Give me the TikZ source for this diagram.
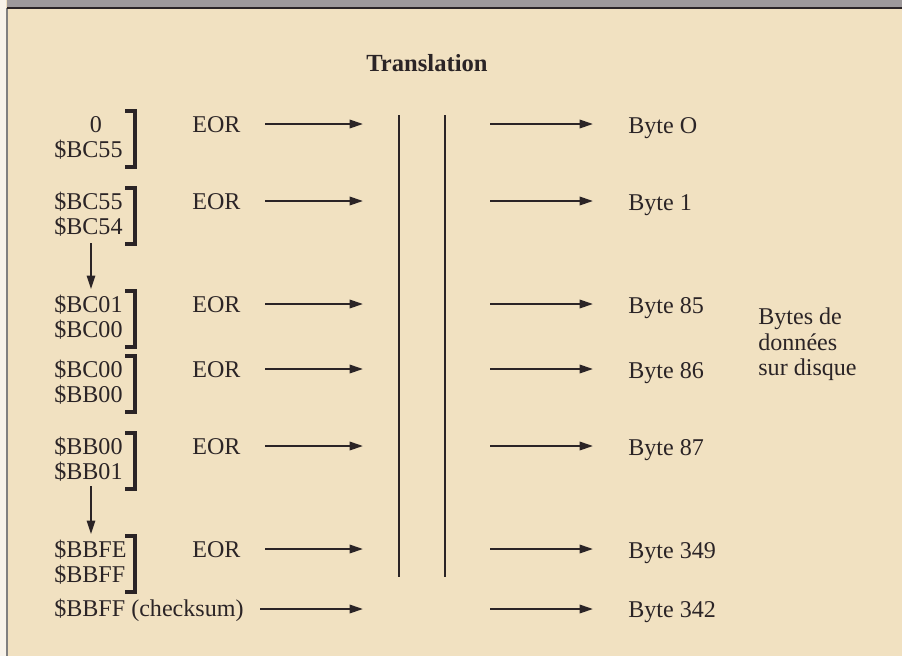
\documentclass[tikz,border=0pt]{standalone}
\usepackage{fontspec}
\setmainfont{Liberation Serif}
\usetikzlibrary{arrows.meta}
\definecolor{paper}{HTML}{F1E1C1}
\definecolor{band}{HTML}{9E999B}
\definecolor{ink}{HTML}{2B2426}
\definecolor{strip}{HTML}{F8F3EA}
\begin{document}
\begin{tikzpicture}[x=0.02cm,y=-0.02cm,
  lbl/.style={font=\fontsize{13.7}{16}\selectfont, text=ink, inner sep=0pt, anchor=base west},
  arr/.style={draw=ink, line width=1.2pt, -{Triangle[length=0.27cm,width=0.17cm]}},
  brk/.style={draw=ink, line width=2.2pt},
  vline/.style={draw=ink, line width=0.65pt}]
\useasboundingbox (0,0) rectangle (902,656);
\fill[paper] (0,0) rectangle (902,656);
\fill[strip] (0,0) rectangle (6,656);
\draw[gray, line width=0.6pt] (7,8) -- (7,656);
\fill[band] (7,0) rectangle (902,7);
\draw[ink, line width=1.2pt] (7,8) -- (902,8);

\node[lbl, font=\bfseries\fontsize{14}{16}\selectfont, anchor=base] (title) at (427,71) {Translation};

% vertical translation lines
\coordinate (v1t) at (399,115); \coordinate (v1b) at (399,577);
\coordinate (v2t) at (445,115); \coordinate (v2b) at (445,577);
\draw[vline] (v1t) -- (v1b);
\draw[vline] (v2t) -- (v2b);

% first row, first value
\node[lbl, anchor=base] (l0a) at (96,132) {0};

\foreach \i/\y/\ta/\tb/\bt in {0/132//\$BC55/Byte O,
                               1/209/\$BC55/\$BC54/Byte 1,
                               2/312/\$BC01/\$BC00/Byte 85,
                               3/377/\$BC00/\$BB00/Byte 86,
                               4/454/\$BB00/\$BB01/Byte 87,
                               5/557/\$BBFE/\$BBFF/Byte 349}{
  \ifnum\i>0
    \node[lbl] (l\i a) at (54,\y) {\ta};
  \fi
  \node[lbl] (l\i b) at (54,\y+25.5) {\tb};
  \draw[brk] (125,\y-21) -- (135,\y-21) -- (135,\y+35) -- (125,\y+35);
  \node[lbl] (eor\i) at (192,\y) {EOR};
  \coordinate (ea\i) at (265,\y-8);
  \coordinate (eb\i) at (363,\y-8);
  \draw[arr] (ea\i) -- (eb\i);
  \coordinate (ra\i) at (490,\y-8);
  \coordinate (rb\i) at (593,\y-8);
  \draw[arr] (ra\i) -- (rb\i);
  \node[lbl] (byte\i) at (628,\y+1) {\bt};
}

% checksum row
\node[lbl] (chk) at (54,616) {\$BBFF (checksum)};
\coordinate (ca) at (260,609); \coordinate (cb) at (363,609);
\draw[arr] (ca) -- (cb);
\coordinate (cra) at (490,609); \coordinate (crb) at (593,609);
\draw[arr] (cra) -- (crb);
\node[lbl] (byte342) at (628,617) {Byte 342};

% down arrows
\coordinate (d1a) at (91,243); \coordinate (d1b) at (91,289);
\draw[arr, line width=0.8pt] (d1a) -- (d1b);
\coordinate (d2a) at (91,486); \coordinate (d2b) at (91,534);
\draw[arr, line width=0.8pt] (d2a) -- (d2b);

% side label
\node[lbl] (side1) at (758,324) {Bytes de};
\node[lbl] (side2) at (758,350) {données};
\node[lbl] (side3) at (758,375) {sur disque};
\end{tikzpicture}
\end{document}
